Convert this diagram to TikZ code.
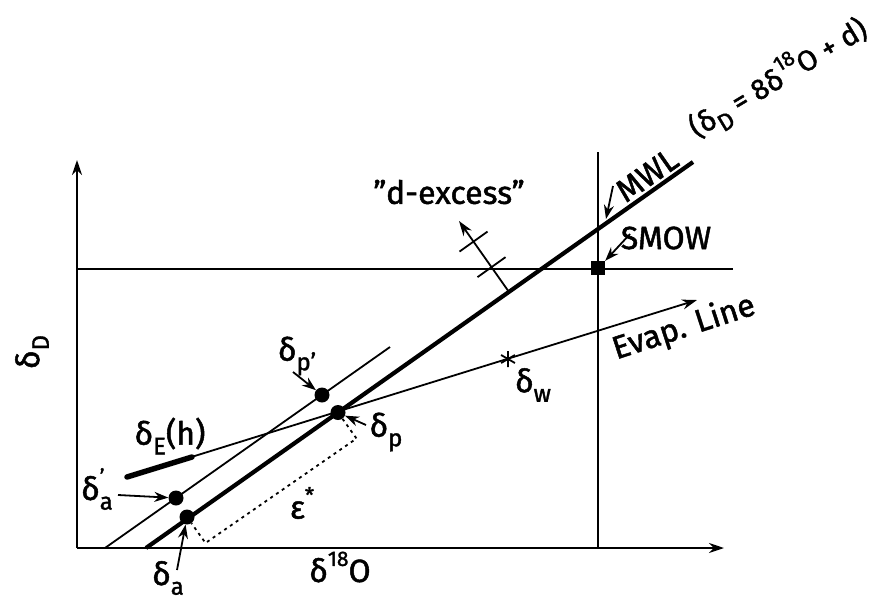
\documentclass[tikz,border=0pt]{standalone}
\usepackage{fontspec}
\setmainfont{Fira Sans}[FakeBold=1.5]
\usetikzlibrary{arrows.meta,calc}
\newcommand\sbs[1]{\raisebox{-0.3em}{\fontsize{24}{24}\selectfont #1}}
\newcommand\sps[1]{\raisebox{0.5em}{\fontsize{21}{21}\selectfont #1}}
\newcommand\supsub[2]{\rlap{\sps{#1}}\sbs{#2}}
\begin{document}
\begin{tikzpicture}[x=1pt,y=-1pt,
  thinln/.style={line width=1.8pt},
  thickln/.style={line width=4.2pt},
  axisln/.style={line width=2.2pt},
  arrowln/.style={-{Stealth[length=15pt,width=10pt]}},
  ptr/.style={line width=1.8pt,-{Stealth[length=14pt,width=10pt]}},
  blob/.style={circle,fill=black,inner sep=0pt,minimum size=15pt},
  lbl/.style={font=\fontsize{32}{36}\selectfont,inner sep=1pt},
  dotline/.style={line width=1.8pt,dash pattern=on 3pt off 4pt},
]
\useasboundingbox (0,0) rectangle (876,600);
% axes
\coordinate (O) at (77,548);
\coordinate (xE) at (724,548);
\coordinate (yE) at (77,160);
\draw[axisln,arrowln] (O) -- (xE);
\draw[axisln,arrowln] (O) -- (yE);
% SMOW reference lines
\coordinate (h1) at (77,269); \coordinate (h2) at (733,269);
\draw[thinln] (h1) -- (h2);
\coordinate (v1) at (598,548); \coordinate (v2) at (598,152);
\draw[thinln] (v1) -- (v2);
\node[fill=black,minimum size=14pt,inner sep=0pt] (smow) at (598,268) {};
% MWL
\coordinate (m1) at (146,548); \coordinate (m2) at (693,162);
\draw[thickln] (m1) -- (m2);
% thin parallel line
\coordinate (t1) at (105,548); \coordinate (t2) at (390,347);
\draw[thinln] (t1) -- (t2);
% evaporation line
\coordinate (e1) at (127,477); \coordinate (e0) at (192,457); \coordinate (e2) at (697,300);
\draw[thinln,arrowln] (e1) -- (e2);
\draw[line width=5.5pt,line cap=round] (e1) -- (e0);
% dots
\node[blob] (pa) at (187,517) {};
\node[blob] (pp) at (338,412.5) {};
\node[blob] (paq) at (176,498) {};
\node[blob] (ppq) at (322,395) {};
% delta w star
\coordinate (w) at (508,359);
\draw[line width=1.8pt] ($(w)+(90:8)$) -- ($(w)+(270:8)$)
  ($(w)+(30:8)$) -- ($(w)+(210:8)$) ($(w)+(150:8)$) -- ($(w)+(330:8)$);
% epsilon bracket
\coordinate (c1) at ($(pp)+(18.5,26)$);
\coordinate (c2) at ($(pa)+(18.5,26)$);
\draw[dotline] (pp) -- (c1) -- (c2) -- (pa);
% d-excess
\coordinate (db) at (509,292);
\coordinate (dt) at (459,221);
\draw[thinln,arrowln] (db) -- (dt);
\coordinate (k1) at ($(db)!0.35!(dt)$);
\coordinate (k2) at ($(db)!0.71!(dt)$);
\draw[thinln] ($(k1)+(-14,10)$) -- ($(k1)+(14,-10)$);
\draw[thinln] ($(k2)+(-14,10)$) -- ($(k2)+(14,-10)$);
% labels
\node[lbl] (dex) at (449,192) {"d-excess"};
\node[lbl] (smowl) at (666,238) {SMOW};
\coordinate (smowa) at (630,234);
\draw[ptr] (smowa) -- (smow.north east);
\node[lbl,rotate=35] (mwl) at (647,175) {MWL};
\coordinate (mwla) at (613,186); \coordinate (mwlb) at (606,219);
\draw[ptr] (mwla) -- (mwlb);
\node[lbl,rotate=31,font=\fontsize{29}{32}\selectfont] (eq) at (778,78) {(δ\sbs{D} = 8δ\sps{18}O + d)};
\node[lbl,rotate=18] (evap) at (684,328) {Evap. Line};
\node[lbl] (lw) at (533,385) {δ\sbs{w}};
\node[lbl] (lpq) at (297,356) {δ\sbs{p'}};
\coordinate (lpqa) at (293,372);
\draw[ptr] (lpqa) -- (ppq);
\node[lbl] (lp) at (386,432) {δ\sbs{p}};
\coordinate (lpa) at (366,425);
\draw[ptr] (lpa) -- (pp);
\node[lbl] (lE) at (170,436) {δ\sbs{E}(h)};
\node[lbl] (laq) at (97,489) {δ\supsub{'}{a}};
\coordinate (laqa) at (118,495);
\draw[ptr] (laqa) -- (paq);
\node[lbl] (la) at (168,578) {δ\sbs{a}};
\coordinate (laa) at (177,570);
\draw[ptr] (laa) -- (pa);
\node[lbl] (lO) at (340,567) {δ\sps{18}O};
\node[lbl,rotate=90] (lD) at (32,352) {δ\sbs{D}};
\node[lbl] (eps) at (302,503) {ε\sps{*}};
\end{tikzpicture}
\end{document}
